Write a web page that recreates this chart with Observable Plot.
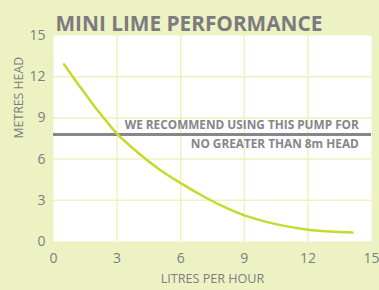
<!DOCTYPE html>
<html>
<head>
<meta charset="utf-8">
<script src="https://cdn.jsdelivr.net/npm/d3@7"></script>
<script src="https://cdn.jsdelivr.net/npm/@observablehq/plot@0.6"></script>
<style>
  html, body { margin: 0; padding: 0; background: #edf2c2; }
  #chart { width: 379px; height: 290px; overflow: hidden; }
</style>
</head>
<body>
<div id="chart"></div>
<script>
const flow = [0.5, 1, 1.5, 2, 2.5, 3, 4, 5, 6, 7, 8, 9, 10, 11, 12, 13, 14.1];
const head = [12.9, 11.8, 10.75, 9.7, 8.75, 7.83, 6.45, 5.25, 4.25, 3.35, 2.55, 1.9, 1.45, 1.1, 0.86, 0.72, 0.66];
const xTicks = [0, 3, 6, 9, 12, 15];
const yTicks = [0, 3, 6, 9, 12, 15];
const recommendedMax = 7.8;
const title = "MINI LIME PERFORMANCE";
const note = ["WE RECOMMEND USING THIS PUMP FOR", "NO GREATER THAN 8m HEAD"];
const noteY = [8.45, 7.05];

const curve = flow.map((x, i) => ({x, y: head[i]}));
const notes = note.map((t, i) => ({t, y: noteY[i]}));

const bg = "#edf2c2";
const gray = "#7d7d82";

const chart = Plot.plot({
  width: 379,
  height: 290,
  marginLeft: 53,
  marginRight: 8,
  marginTop: 35,
  marginBottom: 49,
  style: {background: bg, fontFamily: "'Open Sans', sans-serif", color: gray},
  x: {domain: [0, 15], ticks: xTicks, label: null},
  y: {domain: [0, 15], ticks: yTicks, label: null},
  marks: [
    Plot.frame({fill: "white", stroke: null}),
    Plot.gridX(xTicks.slice(1, -1), {stroke: bg, strokeOpacity: 1, strokeWidth: 1.5}),
    Plot.gridY(yTicks.slice(1, -1), {stroke: bg, strokeOpacity: 1, strokeWidth: 1.5}),
    Plot.ruleY([recommendedMax], {stroke: "#86868b", strokeWidth: 3}),
    Plot.line(curve, {x: "x", y: "y", stroke: "#c6da2a", strokeWidth: 2.5, curve: "catmull-rom"}),
    Plot.text(notes, {x: 14.4, y: "y", text: "t", textAnchor: "end", fontWeight: "bold", fontSize: 11.8, fill: "#85858a"}),
    Plot.axisX({ticks: xTicks, tickSize: 0, tickPadding: 12, fontSize: 14, fill: gray, label: null}),
    Plot.axisY({ticks: yTicks, tickSize: 0, tickPadding: 8, fontSize: 14, fill: gray, label: null}),
    Plot.text([title], {frameAnchor: "top-left", dx: 2, dy: -19, fontWeight: "bold", fontSize: 20.8, fill: "#7b7b80", textAnchor: "start"}),
    Plot.text(["LITRES PER HOUR"], {frameAnchor: "bottom", dy: 41, fontSize: 12.6, fill: gray}),
    Plot.text(["METRES HEAD"], {frameAnchor: "left", dx: -34, rotate: -90, fontSize: 12.3, fill: gray})
  ]
});
document.getElementById("chart").appendChild(chart);
</script>
</body>
</html>
